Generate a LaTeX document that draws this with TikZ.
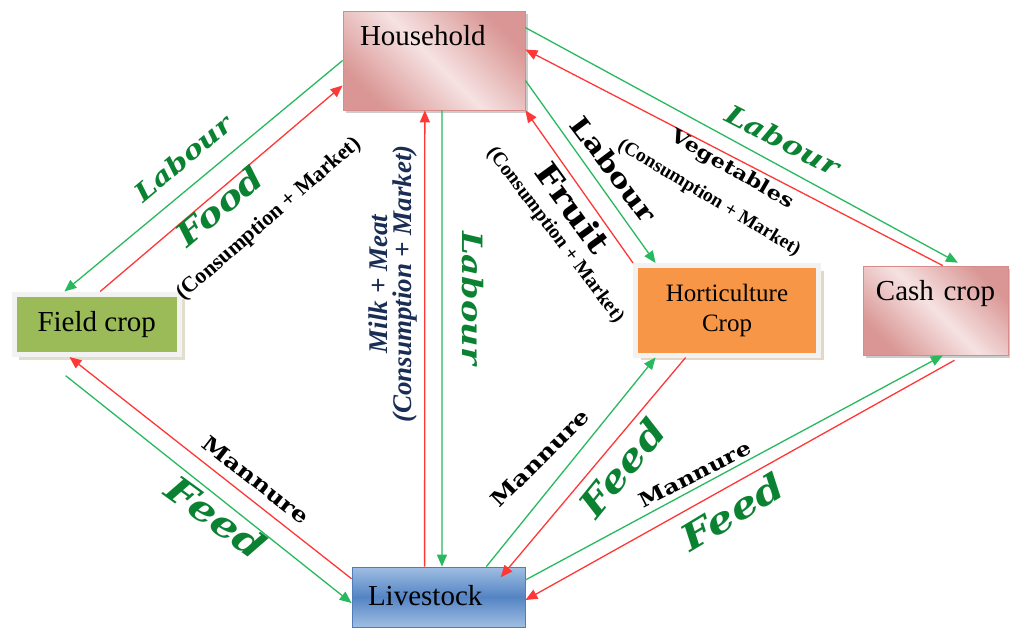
\documentclass[tikz,border=0pt]{standalone}
\usepackage{fontspec}
\usetikzlibrary{arrows.meta,calc,shadows}
\newfontfamily\tnr{Liberation Serif}
\newfontfamily\deco[FakeStretch=1.2]{DejaVu Serif}
\definecolor{pinkdark}{RGB}{217,150,148}
\definecolor{pinklight}{RGB}{246,226,226}
\definecolor{pinkline}{RGB}{215,140,140}
\definecolor{bluelight}{RGB}{160,190,226}
\definecolor{bluedark}{RGB}{84,132,196}
\definecolor{blueline}{RGB}{80,125,185}
\definecolor{fieldgreen}{RGB}{155,187,89}
\definecolor{fieldshadow}{RGB}{196,189,151}
\definecolor{hortorange}{RGB}{247,150,70}
\definecolor{hortshadow}{RGB}{205,175,140}
\definecolor{framegray}{RGB}{242,242,242}
\definecolor{linered}{RGB}{255,55,55}
\definecolor{linegreen}{RGB}{40,185,95}
\definecolor{labelgreen}{RGB}{10,130,50}
\definecolor{milknavy}{RGB}{25,45,85}

\begin{document}
\begin{tikzpicture}[x=1pt, y=-1pt,
  pinkbox/.style={draw=pinkline, line width=0.8pt, left color=pinkdark, right color=pinkdark, middle color=pinklight, shading angle=135, drop shadow={shadow xshift=2.5pt, shadow yshift=-3pt, fill=black!40}, font=\tnr\fontsize{29}{31}\selectfont, inner ysep=0pt},
  bluebox/.style={draw=blueline, line width=0.8pt, top color=bluelight, bottom color=bluelight, middle color=bluedark, font=\tnr\fontsize{29}{31}\selectfont, inner ysep=0pt},
  framebox/.style={draw=framegray, line width=5pt, drop shadow={shadow xshift=5pt, shadow yshift=-5pt, fill=#1}},
  redarrow/.style={draw=linered, line width=1.3pt, -{Triangle[length=12pt,width=10pt]}},
  greenarrow/.style={draw=linegreen, line width=1.3pt, -{Triangle[length=12pt,width=10pt]}},
  greenlbl/.style={font=\deco\bfseries\itshape\fontsize{#1}{#1}\selectfont, text=labelgreen, inner sep=0pt},
  blacklbl/.style={font=\deco\bfseries\fontsize{#1}{#1}\selectfont, text=black, inner sep=0pt},
  cmlbl/.style={font=\tnr\bfseries\fontsize{#1}{#1}\selectfont, text=black, inner sep=0pt}]

\useasboundingbox (0,0) rectangle (1010,627);

% boxes
\node[pinkbox, inner xsep=17pt, text width=148pt, align=left, text height=34pt, text depth=65pt] (hh) at (434,60.5) {Household};
\node[pinkbox, inner xsep=5pt, text width=135pt, align=center, text height=34pt, text depth=55pt] (cc) at (935.5,310.5) {Cash crop};
\node[bluebox, inner xsep=16pt, text width=141pt, align=left, text height=38pt, text depth=22pt] (ls) at (438.5,597) {Livestock};
\node[framebox=fieldshadow, fill=fieldgreen, minimum width=165.5pt, minimum height=60.5pt, font=\tnr\fontsize{29}{31}\selectfont] (fc) at (96.75,324.25) {Field crop};
\node[framebox=hortshadow, fill=hortorange, minimum width=183pt, minimum height=89.5pt, align=center, font=\tnr\fontsize{25}{30}\selectfont] (hc) at (727,310.25) {Horticulture\\Crop};

% household <-> field crop
\draw[greenarrow] (hh.west) -- ($(fc.north west)!0.31!(fc.north east)$);
\draw[redarrow] ($(fc.north west)!0.52!(fc.north east)$) -- ($(hh.north west)!0.75!(hh.south west)$);
% household <-> livestock
\draw[redarrow] ($(ls.north west)!0.42!(ls.north east)$) -- ($(hh.south west)!0.45!(hh.south east)$);
\draw[greenarrow] ($(hh.south west)!0.544!(hh.south east)$) -- ($(ls.north west)!0.52!(ls.north east)$);
% household <-> horticulture
\draw[greenarrow] ($(hh.north east)!0.70!(hh.south east)$) -- ($(hc.north west)!0.12!(hc.north east)$);
\draw[redarrow] (hc.north west) -- (hh.south east);
% household <-> cash crop
\draw[greenarrow, shorten >=6pt] ($(hh.north east)!0.17!(hh.south east)$) -- ($(cc.north west)!0.69!(cc.north east)$);
\draw[redarrow] ($(cc.north west)!0.55!(cc.north east)$) -- ($(hh.north east)!0.39!(hh.south east)$);
% livestock <-> field crop
\draw[redarrow] ($(ls.north west)!0.2!(ls.south west)$) -- ($(fc.south west)!0.34!(fc.south east)$);
\draw[greenarrow, shorten <=30pt] ($(fc.south west)!0.18!(fc.south east)$) -- ($(ls.north west)!0.6!(ls.south west)$);
% livestock <-> horticulture
\draw[greenarrow] ($(ls.north west)!0.775!(ls.north east)$) -- ($(hc.south west)!0.12!(hc.south east)$);
\draw[redarrow, shorten >=-14pt] ($(hc.south west)!0.28!(hc.south east)$) -- ($(ls.north west)!0.91!(ls.north east)$);
% livestock <-> cash crop
\draw[greenarrow] ($(ls.north east)!0.22!(ls.south east)$) -- ($(cc.south west)!0.55!(cc.south east)$);
\draw[redarrow, shorten <=10pt] ($(cc.south west)!0.69!(cc.south east)$) -- ($(ls.north east)!0.55!(ls.south east)$);

% labels
\node[greenlbl=25, rotate=40] (lLabourFc) at (183,158) {Labour};
\node[greenlbl=32, rotate=40] (lFood) at (219,206) {Food};
\node[cmlbl=22, rotate=41] (lFoodCm) at (269,219) {(Consumption + Market)};
\node[font=\tnr\bfseries\itshape\fontsize{27}{24}\selectfont, text=milknavy, inner sep=0pt, align=center, rotate=90] (lMilk) at (393,284) {Milk + Meat\\(Consumption + Market)};
\node[greenlbl=28, rotate=-90] (lLabourLs) at (473,298) {Labour};
\node[blacklbl=31, rotate=-54] (lFruit) at (573,208) {Fruit};
\node[cmlbl=20, rotate=-53] (lFruitCm) at (555,235) {(Consumption + Market)};
\node[blacklbl=26, rotate=-53] (lLabourHc) at (614,169) {Labour};
\node[blacklbl=19, rotate=-30] (lVeg) at (732,170) {Vegetables};
\node[cmlbl=19.5, rotate=-31] (lVegCm) at (709,198) {(Consumption + Market)};
\node[greenlbl=26, rotate=-27] (lLabourCc) at (783,140) {Labour};
\node[blacklbl=21, rotate=-38] (lMannureFc) at (256,480) {Mannure};
\node[greenlbl=36, rotate=-36] (lFeedFc) at (216,517) {Feed};
\node[blacklbl=21, rotate=45] (lMannureHc) at (540,458) {Mannure};
\node[greenlbl=36, rotate=51] (lFeedHc) at (622,468) {Feed};
\node[blacklbl=20, rotate=27] (lMannureCc) at (695,474) {Mannure};
\node[greenlbl=36, rotate=31] (lFeedCc) at (732,512) {Feed};

\end{tikzpicture}
\end{document}
